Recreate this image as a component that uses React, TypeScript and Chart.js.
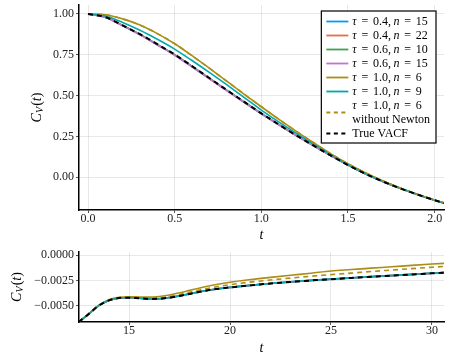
import React, { useEffect, useRef } from "react";
import { Chart, registerables } from "chart.js";

Chart.register(...registerables);

// ---------------- data ----------------
const topT = [0, 0.1, 0.2, 0.3, 0.4, 0.5, 0.6, 0.7, 0.8, 0.9, 1.0, 1.1, 1.2, 1.3, 1.4, 1.5, 1.6, 1.7, 1.8, 1.9, 2.0, 2.1];
const topTrue = [1.0, 0.981, 0.93, 0.876, 0.815, 0.752, 0.681, 0.608, 0.535, 0.463, 0.392, 0.324, 0.258, 0.195, 0.134, 0.075, 0.022, -0.025, -0.067, -0.105, -0.14, -0.172];
const topBlue = [1.0, 0.98, 0.929, 0.875, 0.813, 0.75, 0.679, 0.606, 0.533, 0.461, 0.391, 0.323, 0.257, 0.195, 0.134, 0.075, 0.022, -0.025, -0.067, -0.105, -0.14, -0.172];
const topRed = [1.0, 0.98, 0.929, 0.874, 0.812, 0.749, 0.678, 0.605, 0.532, 0.461, 0.39, 0.323, 0.257, 0.194, 0.134, 0.075, 0.022, -0.025, -0.067, -0.105, -0.14, -0.172];
const topGreen = [1.0, 0.981, 0.93, 0.875, 0.814, 0.751, 0.68, 0.607, 0.534, 0.462, 0.391, 0.324, 0.258, 0.195, 0.134, 0.075, 0.022, -0.025, -0.067, -0.105, -0.14, -0.172];
const topPurple = [1.0, 0.979, 0.927, 0.872, 0.81, 0.747, 0.676, 0.603, 0.531, 0.459, 0.389, 0.322, 0.256, 0.194, 0.133, 0.075, 0.022, -0.025, -0.067, -0.105, -0.14, -0.172];
const topOlive = [1.0, 0.995, 0.97, 0.932, 0.88, 0.818, 0.745, 0.668, 0.589, 0.51, 0.432, 0.356, 0.283, 0.213, 0.145, 0.083, 0.028, -0.021, -0.065, -0.104, -0.139, -0.171];
const topTeal = [1.0, 0.988, 0.948, 0.9, 0.845, 0.785, 0.715, 0.642, 0.567, 0.49, 0.412, 0.34, 0.271, 0.205, 0.14, 0.077, 0.023, -0.024, -0.066, -0.105, -0.14, -0.172];
const topOliveNoNewton = [1.0, 0.995, 0.97, 0.932, 0.88, 0.818, 0.745, 0.668, 0.589, 0.51, 0.432, 0.356, 0.283, 0.213, 0.145, 0.083, 0.028, -0.021, -0.065, -0.104, -0.139, -0.171];

const botT = [12.5, 13, 13.5, 14, 14.5, 15, 15.5, 16, 16.5, 17, 17.5, 18, 18.5, 19, 20, 21, 22, 23, 24, 25, 26, 27, 28, 29, 30, 31];
const botTrue = [-0.0066, -0.00582, -0.00498, -0.00447, -0.00424, -0.0042, -0.00426, -0.00433, -0.00431, -0.0042, -0.00403, -0.00383, -0.00362, -0.00344, -0.00319, -0.00299, -0.00281, -0.00265, -0.00251, -0.00238, -0.00226, -0.00214, -0.00203, -0.00192, -0.0018, -0.00169];
const botBlue = [-0.0066, -0.00582, -0.00498, -0.00447, -0.00424, -0.0042, -0.00426, -0.00433, -0.00431, -0.0042, -0.00403, -0.00383, -0.00362, -0.00344, -0.00319, -0.00299, -0.00281, -0.00265, -0.0025, -0.00237, -0.00225, -0.00213, -0.00202, -0.00191, -0.00179, -0.00168];
const botRed = [-0.0066, -0.00582, -0.00498, -0.00447, -0.00424, -0.0042, -0.00426, -0.00433, -0.00431, -0.0042, -0.00403, -0.00383, -0.00362, -0.00344, -0.00319, -0.00299, -0.00281, -0.00265, -0.00251, -0.00238, -0.00226, -0.00214, -0.00203, -0.00192, -0.0018, -0.00169];
const botGreen = [-0.0066, -0.00582, -0.00498, -0.00447, -0.00424, -0.0042, -0.00426, -0.00433, -0.00431, -0.0042, -0.00403, -0.00383, -0.00362, -0.00344, -0.00319, -0.00299, -0.00281, -0.00265, -0.00251, -0.00238, -0.00226, -0.00214, -0.00203, -0.00192, -0.0018, -0.00169];
const botPurple = [-0.0066, -0.00582, -0.00498, -0.00447, -0.00424, -0.0042, -0.00426, -0.00433, -0.00431, -0.0042, -0.00403, -0.00383, -0.00362, -0.00344, -0.00319, -0.00299, -0.00281, -0.00265, -0.00251, -0.00238, -0.00226, -0.00214, -0.00203, -0.00192, -0.0018, -0.00169];
const botOlive = [-0.0066, -0.0058, -0.00494, -0.0044, -0.00416, -0.00411, -0.00413, -0.00415, -0.00408, -0.00394, -0.00372, -0.00348, -0.00324, -0.00303, -0.00268, -0.00242, -0.0022, -0.00199, -0.00179, -0.00157, -0.00143, -0.00129, -0.00116, -0.00102, -0.00089, -0.00077];
const botTeal = [-0.0066, -0.00582, -0.00498, -0.00446, -0.00423, -0.00419, -0.00425, -0.00432, -0.0043, -0.00419, -0.00402, -0.00382, -0.00361, -0.00343, -0.00318, -0.00298, -0.0028, -0.00264, -0.0025, -0.00237, -0.00225, -0.00213, -0.00202, -0.00191, -0.00179, -0.00168];
const botOliveNoNewton = [-0.0066, -0.00581, -0.00496, -0.00444, -0.00421, -0.00416, -0.0042, -0.00426, -0.00422, -0.00408, -0.00389, -0.00366, -0.00344, -0.00324, -0.00292, -0.00267, -0.00246, -0.00227, -0.00209, -0.00193, -0.00178, -0.00162, -0.00148, -0.00134, -0.0012, -0.00108];

const seriesLabels = [
  "τ = 0.4, n = 15",
  "τ = 0.4, n = 22",
  "τ = 0.6, n = 10",
  "τ = 0.6, n = 15",
  "τ = 1.0, n = 6",
  "τ = 1.0, n = 9",
  "τ = 1.0, n = 6\nwithout Newton",
  "True VACF",
];
const seriesColors = ["#009AFA", "#E36F47", "#3EA44E", "#C371D2", "#AC8D18", "#00A9AD", "#AC8D18", "#000000"];
const seriesDashed = [false, false, false, false, false, false, true, true];

const topXTicks = [0, 0.5, 1.0, 1.5, 2.0];
const topYTicks = [0, 0.25, 0.5, 0.75, 1.0];
const botXTicks = [15, 20, 25, 30];
const botYTicks = [-0.005, -0.0025, 0];

const SERIF = "'Liberation Serif', 'DejaVu Serif', serif";

// ---------------- text helpers ----------------
const SPACE_EM = 0.2;
const EQ_PAD_EM = 0.2;

function drawMathLine(ctx: CanvasRenderingContext2D, text: string, x: number, y: number, size: number, math: boolean) {
  let cx = x;
  ctx.textBaseline = "middle";
  ctx.textAlign = "left";
  if (!math) {
    ctx.font = `${size}px ${SERIF}`;
    ctx.fillText(text, cx, y);
    return ctx.measureText(text).width;
  }
  for (const ch of Array.from(text)) {
    if (ch === " ") {
      cx += size * SPACE_EM;
      continue;
    }
    const italic = /[a-zA-Zτ]/.test(ch);
    ctx.font = `${italic ? "italic " : ""}${size}px ${SERIF}`;
    const w = ctx.measureText(ch).width;
    if (ch === "=") {
      cx += size * EQ_PAD_EM;
      ctx.fillText(ch, cx, y);
      cx += w + size * EQ_PAD_EM;
    } else {
      ctx.fillText(ch, cx, y);
      cx += w;
    }
  }
  return cx - x;
}

function measureMathLine(ctx: CanvasRenderingContext2D, text: string, size: number, math: boolean) {
  if (!math) {
    ctx.font = `${size}px ${SERIF}`;
    return ctx.measureText(text).width;
  }
  let w = 0;
  for (const ch of Array.from(text)) {
    if (ch === " ") {
      w += size * SPACE_EM;
      continue;
    }
    const italic = /[a-zA-Zτ]/.test(ch);
    ctx.font = `${italic ? "italic " : ""}${size}px ${SERIF}`;
    w += ctx.measureText(ch).width + (ch === "=" ? size * EQ_PAD_EM * 2 : 0);
  }
  return w;
}

function drawCV(ctx: CanvasRenderingContext2D, cx: number, cy: number, size: number) {
  const sub = size * 0.72;
  const parts = [
    { t: "C", f: `italic ${size}px ${SERIF}`, dy: 0 },
    { t: "V", f: `italic ${sub}px ${SERIF}`, dy: size * 0.22 },
    { t: "(", f: `${size}px ${SERIF}`, dy: 0 },
    { t: "t", f: `italic ${size}px ${SERIF}`, dy: 0 },
    { t: ")", f: `${size}px ${SERIF}`, dy: 0 },
  ];
  let total = 0;
  const widths: number[] = [];
  for (const p of parts) {
    ctx.font = p.f;
    const w = ctx.measureText(p.t).width + (p.t === "V" ? size * 0.08 : 0);
    widths.push(w);
    total += w;
  }
  ctx.save();
  ctx.translate(cx, cy);
  ctx.rotate(-Math.PI / 2);
  ctx.fillStyle = "#000";
  ctx.textBaseline = "middle";
  ctx.textAlign = "left";
  let x = -total / 2;
  parts.forEach((p, i) => {
    ctx.font = p.f;
    ctx.fillText(p.t, x, p.dy);
    x += widths[i];
  });
  ctx.restore();
}

const titlesPlugin = {
  id: "mathTitles",
  afterDraw(chart: any, _args: any, opts: any) {
    const ctx: CanvasRenderingContext2D = chart.ctx;
    const a = chart.chartArea;
    ctx.save();
    ctx.fillStyle = "#000";
    ctx.font = `italic 14px ${SERIF}`;
    ctx.textAlign = "center";
    ctx.textBaseline = "middle";
    ctx.fillText("t", (a.left + a.right) / 2, a.bottom + opts.xTitleOffset);
    drawCV(ctx, opts.yTitleX, (a.top + a.bottom) / 2, 14);

    if (opts.legend) {
      const size = 12;
      const rowH = 14;
      const lineLen = 22;
      const padL = 5;
      const gap = 4;
      const padR = 6;
      const padV = 3;
      let maxW = 0;
      let nLines = 0;
      seriesLabels.forEach((lab) => {
        lab.split("\n").forEach((ln) => {
          nLines++;
          maxW = Math.max(maxW, measureMathLine(ctx, ln, size, ln.includes("=")));
        });
      });
      const boxW = padL + lineLen + gap + maxW + padR;
      const boxH = nLines * rowH + padV * 2;
      const right = a.right - 8;
      const top = a.top + 6;
      const left = right - boxW;
      ctx.fillStyle = "#fff";
      ctx.fillRect(left, top, boxW, boxH);
      ctx.strokeStyle = "#000";
      ctx.lineWidth = 1.2;
      ctx.strokeRect(left, top, boxW, boxH);
      let y = top + padV + rowH / 2 + 0.5;
      seriesLabels.forEach((lab, i) => {
        const lines = lab.split("\n");
        const midY = y + ((lines.length - 1) * rowH) / 2;
        ctx.save();
        ctx.strokeStyle = seriesColors[i];
        ctx.lineWidth = seriesDashed[i] ? 2 : 1.8;
        ctx.setLineDash(seriesDashed[i] ? [4, 3.5] : []);
        ctx.beginPath();
        ctx.moveTo(left + padL, midY);
        ctx.lineTo(left + padL + lineLen, midY);
        ctx.stroke();
        ctx.restore();
        ctx.fillStyle = "#000";
        lines.forEach((ln, k) => {
          drawMathLine(ctx, ln, left + padL + lineLen + gap, y + k * rowH, size, ln.includes("="));
        });
        y += lines.length * rowH;
      });
    }
    ctx.restore();
  },
};

function buildDatasets(t: number[], arrays: number[][]) {
  const orders = [7, 6, 5, 4, 3, 2, 1, 0];
  return arrays.map((arr, i) => ({
    label: seriesLabels[i].replace("\n", " "),
    data: arr.map((v, k) => ({ x: t[k], y: v })),
    borderColor: seriesColors[i],
    backgroundColor: seriesColors[i],
    borderWidth: i === 7 ? 2 : 1.6,
    borderDash: seriesDashed[i] ? [5, 4] : [],
    pointRadius: 0,
    fill: false,
    cubicInterpolationMode: "monotone" as const,
    order: orders[i],
  }));
}

function makeAxis(ticks: number[], fmt: (v: number) => string, min: number, max: number, horizontal: boolean, size: number) {
  return {
    type: "linear" as const,
    min,
    max,
    grid: {
      color: "rgba(0,0,0,0.09)",
      lineWidth: 1,
      drawTicks: true,
      tickLength: 3,
      tickColor: "#555",
    },
    border: { display: true, color: "#000", width: 1.5 },
    afterBuildTicks: (scale: any) => {
      scale.ticks = ticks.map((v) => ({ value: v }));
    },
    afterFit: (s: any) => {
      if (horizontal) {
        s.height = size;
        s.paddingLeft = 0;
        s.paddingRight = 0;
      } else {
        s.width = size;
        s.paddingTop = 0;
        s.paddingBottom = 0;
      }
    },
    ticks: {
      color: "#222",
      font: { family: SERIF, size: 12 },
      autoSkip: false,
      maxRotation: 0,
      padding: horizontal ? -1 : 2,
      callback: (v: any) => fmt(Number(v)),
    },
  };
}

function fmtMinus(s: string) {
  return s.replace("-", "\u2212");
}

function ChartCanvas({ config, width, height, top }: any) {
  const ref = useRef<HTMLCanvasElement | null>(null);
  useEffect(() => {
    if (!ref.current) return;
    const chart = new Chart(ref.current, config);
    return () => chart.destroy();
  }, []);
  return (
    <canvas
      ref={ref}
      width={width}
      height={height}
      style={{ position: "absolute", left: 0, top, width, height, display: "block" }}
    />
  );
}

export default function App() {
  const topConfig: any = {
    type: "line",
    data: {
      datasets: buildDatasets(topT, [topBlue, topRed, topGreen, topPurple, topOlive, topTeal, topOliveNoNewton, topTrue]),
    },
    options: {
      responsive: false,
      animation: false,
      devicePixelRatio: 1,
      layout: { padding: { left: 0, right: 8, top: 5, bottom: 0 } },
      plugins: {
        legend: { display: false },
        tooltip: { enabled: false },
        mathTitles: { xTitleOffset: 25, yTitleX: 37, legend: true },
      },
      scales: {
        x: makeAxis(topXTicks, (v) => v.toFixed(1), -0.052, 2.054, true, 30),
        y: makeAxis(topYTicks, (v) => fmtMinus(v.toFixed(2)), -0.2, 1.055, false, 79),
      },
    },
    plugins: [titlesPlugin],
  };

  const botConfig: any = {
    type: "line",
    data: {
      datasets: buildDatasets(botT, [botBlue, botRed, botGreen, botPurple, botOlive, botTeal, botOliveNoNewton, botTrue]),
    },
    options: {
      responsive: false,
      animation: false,
      devicePixelRatio: 1,
      layout: { padding: { left: 0, right: 8, top: 12, bottom: 0 } },
      plugins: {
        legend: { display: false },
        tooltip: { enabled: false },
        mathTitles: { xTitleOffset: 26, yTitleX: 17, legend: false },
      },
      scales: {
        x: makeAxis(botXTicks, (v) => String(v), 12.52, 30.6, true, 41),
        y: makeAxis(botYTicks, (v) => fmtMinus(v.toFixed(4)), -0.0066, 0.0003, false, 79),
      },
    },
    plugins: [titlesPlugin],
  };

  return (
    <div style={{ position: "fixed", left: 0, top: 0, width: 452, height: 363, background: "#fff" }}>
      <ChartCanvas config={topConfig} width={452} height={240} top={0} />
      <ChartCanvas config={botConfig} width={452} height={123} top={240} />
    </div>
  );
}
